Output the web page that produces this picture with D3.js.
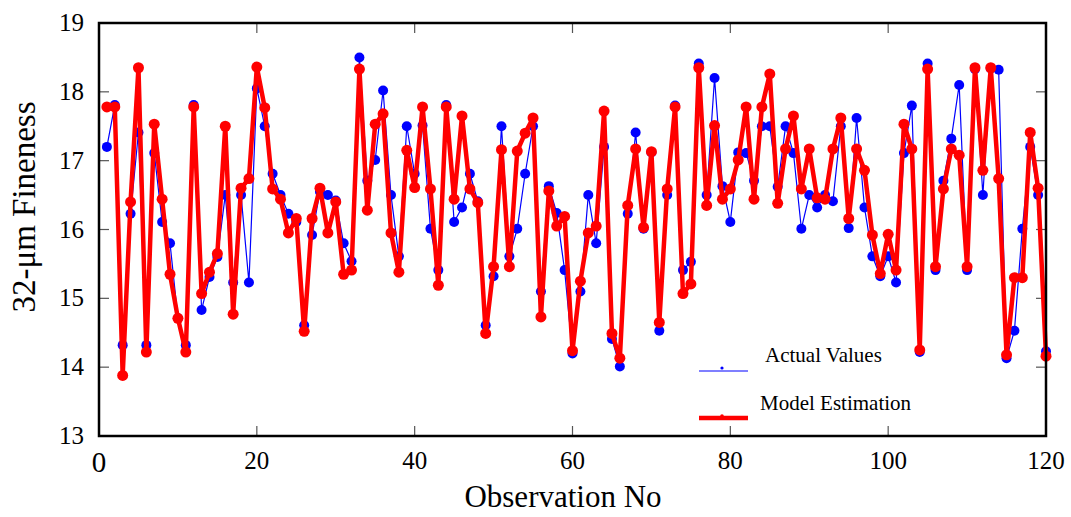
<!DOCTYPE html>
<html>
<head>
<meta charset="utf-8">
<script src="https://cdn.jsdelivr.net/npm/d3@7"></script>
<style>
  body { margin: 0; background: #fff; }
  text { font-family: "Liberation Serif", "Times New Roman", serif; fill: #000; }
</style>
</head>
<body>
<div id="chart"></div>
<script>
// observation numbers 1..120
var obs = d3.range(1, 121)

// actual measured values
var actual = [
  17.20, 17.81, 14.32, 16.23, 17.41, 14.32, 17.11, 16.11, 15.80, 14.71,
  14.32, 17.81, 14.83, 15.31, 15.60, 16.50, 15.23, 16.50, 15.23, 18.05,
  17.50, 16.81, 16.50, 16.23, 16.11, 14.61, 15.92, 16.55, 16.50, 16.42,
  15.80, 15.54, 18.50, 16.71, 17.01, 18.02, 16.50, 15.61, 17.50, 16.81,
  17.51, 16.01, 15.41, 17.81, 16.11, 16.32, 16.81, 16.41, 14.61, 15.32,
  17.50, 15.61, 16.01, 16.81, 17.50, 15.10, 16.63, 16.24, 15.41, 14.20,
  15.10, 16.50, 15.80, 17.20, 14.41, 14.01, 16.23, 17.41, 16.01, 17.12,
  14.53, 16.50, 17.80, 15.41, 15.53, 18.41, 16.50, 18.20, 16.63, 16.11,
  17.12, 17.11, 16.71, 17.50, 17.50, 16.62, 17.50, 17.11, 16.01, 16.50,
  16.32, 16.50, 16.41, 17.50, 16.02, 17.62, 16.32, 15.61, 15.32, 15.61,
  15.23, 17.11, 17.80, 14.22, 18.41, 15.41, 16.71, 17.32, 18.10, 15.41,
  18.33, 16.50, 18.34, 18.32, 14.13, 14.53, 16.01, 17.20, 16.50, 14.23
]

// model estimation
var model = [
  17.78, 17.78, 13.88, 16.40, 18.35, 14.22, 17.53, 16.44, 15.35, 14.71,
  14.22, 17.78, 15.07, 15.38, 15.65, 17.50, 14.77, 16.60, 16.74, 18.36,
  17.77, 16.59, 16.44, 15.95, 16.16, 14.52, 16.16, 16.60, 15.95, 16.40,
  15.35, 15.41, 18.33, 16.28, 17.53, 17.68, 15.95, 15.38, 17.15, 16.61,
  17.78, 16.59, 15.19, 17.78, 16.44, 17.65, 16.59, 16.39, 14.49, 15.46,
  17.16, 15.46, 17.14, 17.40, 17.62, 14.73, 16.56, 16.05, 16.19, 14.24,
  15.25, 15.95, 16.05, 17.72, 14.49, 14.13, 16.35, 17.17, 16.03, 17.13,
  14.65, 16.59, 17.78, 15.07, 15.21, 18.35, 16.35, 17.51, 16.44, 16.59,
  17.01, 17.78, 16.44, 17.78, 18.26, 16.38, 17.17, 17.65, 16.59, 17.17,
  16.46, 16.44, 17.17, 17.62, 16.16, 17.17, 16.86, 15.92, 15.36, 15.93,
  15.41, 17.53, 17.17, 14.25, 18.33, 15.46, 16.59, 17.17, 17.08, 15.46,
  18.35, 16.86, 18.35, 16.74, 14.18, 15.30, 15.30, 17.41, 16.60, 14.16
]

var xTicks = [0, 20, 40, 60, 80, 100, 120]
var yTicks = [13, 14, 15, 16, 17, 18, 19]

// set the dimensions of the plot box
var width = 1071
var height = 517
var plotL = 99, plotR = 1046, plotT = 23, plotB = 436

var svg = d3.select("#chart")
    .append("svg")
    .attr("width", width)
    .attr("height", height)

var x = d3.scaleLinear().domain([0, 120]).range([plotL, plotR])
var y = d3.scaleLinear().domain([13, 19]).range([plotB, plotT])

// inward ticks on all four sides
var tickLen = 10
var tickColor = "#555"
svg.append("g").selectAll("line")
    .data(yTicks.slice(1, -1)).enter().append("line")
    .attr("x1", plotL).attr("x2", plotL + tickLen)
    .attr("y1", d => y(d)).attr("y2", d => y(d))
    .attr("stroke", tickColor).attr("stroke-width", 1.2)
svg.append("g").selectAll("line")
    .data(yTicks.slice(1, -1)).enter().append("line")
    .attr("x1", plotR).attr("x2", plotR - tickLen)
    .attr("y1", d => y(d)).attr("y2", d => y(d))
    .attr("stroke", tickColor).attr("stroke-width", 1.2)
svg.append("g").selectAll("line")
    .data(xTicks.slice(1, -1)).enter().append("line")
    .attr("x1", d => x(d)).attr("x2", d => x(d))
    .attr("y1", plotB).attr("y2", plotB - tickLen)
    .attr("stroke", tickColor).attr("stroke-width", 1.2)
svg.append("g").selectAll("line")
    .data(xTicks.slice(1, -1)).enter().append("line")
    .attr("x1", d => x(d)).attr("x2", d => x(d))
    .attr("y1", plotT).attr("y2", plotT + tickLen)
    .attr("stroke", tickColor).attr("stroke-width", 1.2)

// tick labels
svg.append("g").selectAll("text")
    .data(yTicks).enter().append("text")
    .attr("x", plotL - 15)
    .attr("y", d => y(d) + 8)
    .attr("text-anchor", "end")
    .style("font-size", "25px")
    .text(d => d)
svg.append("g").selectAll("text")
    .data(xTicks).enter().append("text")
    .attr("x", d => x(d))
    .attr("y", d => d === 0 ? 472 : 469)
    .attr("text-anchor", "middle")
    .style("font-size", d => d === 0 ? "29px" : "25px")
    .text(d => d)

// axis titles
svg.append("text")
    .attr("x", 563).attr("y", 507)
    .attr("text-anchor", "middle")
    .style("font-size", "31px")
    .text("Observation No")
svg.append("text")
    .attr("transform", "translate(35," + 207 + ") rotate(-90)")
    .attr("text-anchor", "middle")
    .style("font-size", "33px")
    .text("32-μm Fineness")

// actual values: thin blue line with dots
var line = d3.line().x((d, i) => x(obs[i])).y(d => y(d))
svg.append("path")
    .datum(actual)
    .attr("d", line)
    .attr("fill", "none")
    .attr("stroke", "#0000ff")
    .attr("stroke-width", 1.2)
svg.append("g").selectAll("circle")
    .data(actual).enter().append("circle")
    .attr("cx", (d, i) => x(obs[i]))
    .attr("cy", d => y(d))
    .attr("r", 5)
    .attr("fill", "#0000ff")

// model estimation: thick red line with dots
svg.append("path")
    .datum(model)
    .attr("d", line)
    .attr("fill", "none")
    .attr("stroke", "#ff0000")
    .attr("stroke-width", 4.5)
    .attr("stroke-linejoin", "round")
svg.append("g").selectAll("circle")
    .data(model).enter().append("circle")
    .attr("cx", (d, i) => x(obs[i]))
    .attr("cy", d => y(d))
    .attr("r", 5.5)
    .attr("fill", "#ff0000")

// frame
svg.append("rect")
    .attr("x", plotL).attr("y", plotT)
    .attr("width", plotR - plotL).attr("height", plotB - plotT)
    .attr("fill", "none")
    .attr("stroke", "#000")
    .attr("stroke-width", 2.5)

// legend
var legend = svg.append("g")
legend.append("line")
    .attr("x1", 699).attr("x2", 748).attr("y1", 371).attr("y2", 371)
    .attr("stroke", "#0000ff").attr("stroke-width", 1.2)
legend.append("circle")
    .attr("cx", 722).attr("cy", 368).attr("r", 1.6).attr("fill", "#0000ff")
legend.append("text")
    .attr("x", 765).attr("y", 362)
    .style("font-size", "21px")
    .text("Actual Values")
legend.append("line")
    .attr("x1", 699).attr("x2", 748).attr("y1", 418).attr("y2", 418)
    .attr("stroke", "#ff0000").attr("stroke-width", 4.5)
legend.append("circle")
    .attr("cx", 722).attr("cy", 416).attr("r", 1.8).attr("fill", "#ff0000")
legend.append("text")
    .attr("x", 760).attr("y", 410)
    .style("font-size", "21px")
    .text("Model Estimation")
</script>
</body>
</html>
